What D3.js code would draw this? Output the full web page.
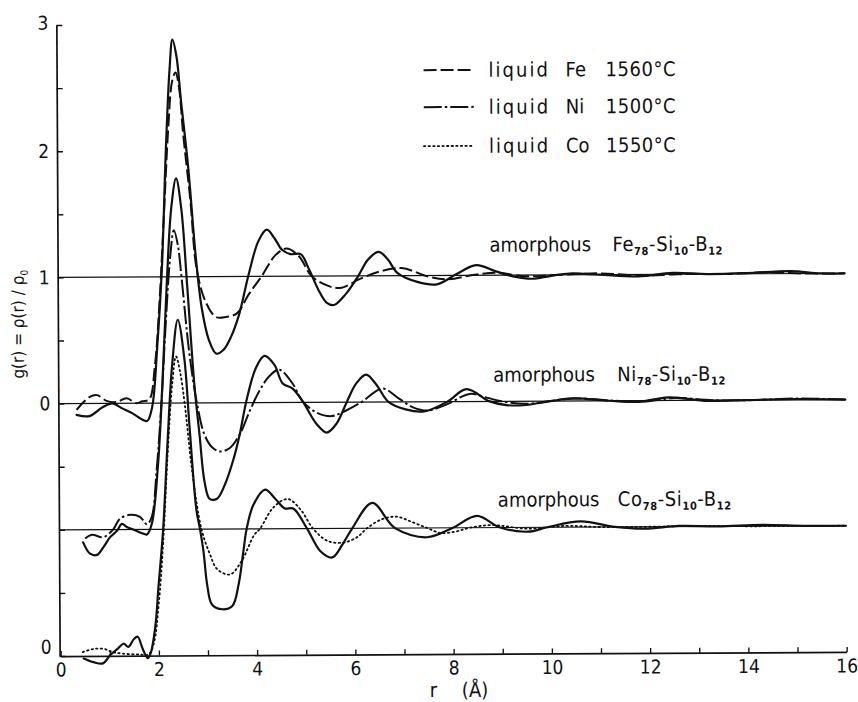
<!DOCTYPE html>
<html>
<head>
<meta charset="utf-8">
<script src="https://cdn.jsdelivr.net/npm/d3@7"></script>
<style>
  html, body { margin: 0; padding: 0; background: #fff; }
  svg { display: block; }
  text { font-family: "DejaVu Sans Condensed", "DejaVu Sans", sans-serif; fill: #111; }
</style>
</head>
<body>
<svg id="chart" width="858" height="702"></svg>
<script>
// Pair distribution functions g(r): [r (Å), g]
const feAmorphous = [[0.35,-0.09],[0.61,-0.10],[0.88,-0.03],[1.08,0.0],[1.28,-0.04],[1.49,-0.08],[1.69,-0.13],[1.79,-0.14],[1.89,-0.03],[2.0,0.45],[2.1,1.05],[2.2,2.05],[2.28,2.65],[2.34,2.88],[2.42,2.75],[2.51,2.39],[2.65,1.86],[2.79,1.17],[2.91,0.75],[3.05,0.5],[3.2,0.39],[3.35,0.42],[3.5,0.52],[3.67,0.70],[3.87,1.02],[4.07,1.28],[4.24,1.37],[4.4,1.3],[4.55,1.21],[4.72,1.175],[4.93,1.175],[5.09,1.06],[5.3,0.88],[5.45,0.79],[5.6,0.77],[5.85,0.86],[6.1,1.0],[6.3,1.13],[6.52,1.19],[6.7,1.13],[6.9,1.02],[7.3,0.95],[7.7,0.93],[8.1,1.01],[8.5,1.08],[8.9,1.03],[9.25,0.99],[9.63,0.97],[10.0,0.99],[10.4,1.01],[11.0,1.0],[11.8,0.985],[12.5,1.01],[13.2,1.0],[14.0,1.005],[14.9,1.02],[15.5,1.0],[16.0,1.0]];
const feLiquid = [[0.35,-0.05],[0.61,0.05],[0.77,0.066],[0.96,0.02],[1.16,0.01],[1.37,0.04],[1.57,0.0],[1.69,0.015],[1.83,0.03],[1.95,0.3],[2.05,0.8],[2.15,1.5],[2.25,2.2],[2.33,2.55],[2.40,2.62],[2.47,2.5],[2.55,2.13],[2.69,1.6],[2.81,1.06],[2.99,0.80],[3.2,0.68],[3.4,0.68],[3.63,0.71],[3.87,0.86],[4.13,1.0],[4.42,1.17],[4.64,1.22],[4.89,1.16],[5.15,1.0],[5.5,0.92],[5.76,0.906],[6.1,0.97],[6.5,1.03],[6.98,1.06],[7.54,0.99],[7.94,0.97],[8.4,1.0],[8.9,1.02],[9.5,0.99],[10.2,1.0],[11.0,1.01],[11.9,0.99],[12.6,1.0],[13.5,1.0],[14.5,1.01],[15.2,1.0],[16.0,1.0]];
const niAmorphous = [[0.47,-0.10],[0.61,-0.19],[0.75,-0.20],[0.88,-0.14],[1.02,-0.06],[1.16,-0.01],[1.26,0.045],[1.36,0.02],[1.49,0.0],[1.67,-0.03],[1.77,-0.04],[1.87,0.045],[2.0,0.5],[2.1,1.15],[2.2,1.95],[2.3,2.55],[2.4,2.78],[2.5,2.55],[2.62,1.9],[2.75,1.15],[2.85,0.75],[2.95,0.37],[3.05,0.24],[3.2,0.24],[3.36,0.35],[3.53,0.54],[3.67,0.75],[3.8,1.0],[4.0,1.27],[4.18,1.37],[4.38,1.30],[4.55,1.15],[4.75,1.11],[4.95,1.01],[5.23,0.83],[5.44,0.76],[5.64,0.83],[5.85,1.0],[6.05,1.15],[6.25,1.217],[6.45,1.14],[6.7,1.0],[7.05,0.94],[7.43,0.924],[7.9,1.0],[8.29,1.098],[8.76,1.0],[9.1,0.97],[9.5,0.97],[10.0,1.0],[10.45,1.02],[11.2,1.0],[11.8,0.99],[12.4,1.025],[13.2,0.995],[14.0,1.0],[15.0,1.005],[16.0,1.0]];
const niLiquid = [[0.51,-0.07],[0.65,-0.04],[0.88,-0.06],[1.08,0.0],[1.22,0.085],[1.43,0.116],[1.63,0.10],[1.77,0.04],[1.87,0.1],[1.97,0.45],[2.07,0.95],[2.17,1.6],[2.27,2.15],[2.35,2.37],[2.43,2.25],[2.5,2.0],[2.65,1.4],[2.8,1.0],[2.95,0.75],[3.1,0.65],[3.26,0.615],[3.46,0.64],[3.67,0.75],[3.87,0.93],[4.07,1.09],[4.28,1.21],[4.48,1.26],[4.75,1.15],[4.95,1.01],[5.23,0.92],[5.54,0.89],[5.76,0.92],[6.15,1.0],[6.58,1.106],[6.9,1.03],[7.2,0.956],[7.5,0.93],[7.9,0.98],[8.35,1.06],[8.7,1.03],[9.0,1.0],[9.5,0.98],[10.0,1.0],[10.5,1.02],[11.3,1.0],[12.0,0.995],[12.5,1.02],[13.3,1.0],[14.2,1.0],[15.0,1.01],[16.0,1.0]];
const coAmorphous = [[0.47,-0.02],[0.67,-0.05],[0.86,-0.06],[1.02,0.01],[1.16,0.055],[1.28,0.095],[1.38,0.07],[1.49,0.13],[1.57,0.15],[1.67,0.055],[1.77,-0.02],[1.83,0.016],[1.93,0.23],[2.0,0.55],[2.1,1.0],[2.2,1.7],[2.3,2.3],[2.42,2.66],[2.55,2.35],[2.65,1.8],[2.78,1.15],[2.85,1.0],[2.92,0.82],[2.99,0.56],[3.09,0.40],[3.3,0.364],[3.5,0.39],[3.63,0.56],[3.73,0.82],[3.8,1.0],[3.94,1.19],[4.18,1.31],[4.38,1.24],[4.58,1.16],[4.75,1.16],[5.03,1.0],[5.3,0.82],[5.54,0.77],[5.76,0.88],[5.95,1.0],[6.36,1.2],[6.82,1.0],[7.47,0.926],[8.0,1.0],[8.49,1.093],[8.96,1.0],[9.53,0.966],[9.92,1.0],[10.6,1.045],[11.3,1.0],[11.9,0.985],[12.6,1.005],[13.4,1.0],[14.3,1.01],[15.2,1.0],[16.0,1.0]];
const coLiquid = [[0.45,0.03],[0.67,0.055],[0.88,0.055],[1.06,0.03],[1.28,0.016],[1.57,0.01],[1.79,0.01],[1.9,0.1],[2.0,0.4],[2.1,0.9],[2.2,1.6],[2.3,2.15],[2.38,2.37],[2.46,2.25],[2.55,2.0],[2.7,1.45],[2.88,1.0],[3.05,0.8],[3.2,0.68],[3.46,0.64],[3.7,0.75],[3.95,0.95],[4.07,1.0],[4.35,1.17],[4.64,1.235],[4.9,1.15],[5.15,1.0],[5.45,0.9],[5.76,0.887],[6.05,0.93],[6.25,1.0],[6.55,1.07],[6.86,1.09],[7.15,1.05],[7.47,1.0],[7.74,0.96],[8.05,0.97],[8.35,1.0],[8.8,1.02],[9.5,0.99],[10.3,1.01],[11.0,1.0],[12.0,1.0],[13.0,1.005],[14.0,1.0],[15.0,1.0],[16.0,1.0]];

// Axis ticks and labels
const xTickValues = d3.range(0, 17);
const yTickValues = [0, 0.5, 1, 1.5, 2, 2.5, 3, 3.5, 4, 4.5, 5];
const yLabelValues = [0, 2, 3, 4, 5];
const yLabelTexts = ["0", "0", "1", "2", "3"];

// Stacking offsets: each alloy sits one unit above the next
const offsets = { Fe: 2, Ni: 1, Co: 0 };

const legendNames = ["Fe", "Ni", "Co"];
const legendTemps = ["1560°C", "1500°C", "1550°C"];

const svg = d3.select("#chart");
const root = svg.append("g").attr("transform", "rotate(-0.3 450 340)");

const x = d3.scaleLinear().domain([0, 16]).range([59, 845]);
const y = d3.scaleLinear().domain([0, 5]).range([654, 23]);

const styles = {
  solid:   { dash: null,          width: 2.2, cap: "round" },
  dashed:  { dash: "13,4",        width: 2.0, cap: "butt" },
  dashdot: { dash: "18,3,2.5,3",  width: 2.0, cap: "butt" },
  dotted:  { dash: "1.4,3.2",     width: 1.8, cap: "round" }
};

const series = [
  { data: feLiquid,    offset: offsets.Fe, style: "dashed" },
  { data: feAmorphous, offset: offsets.Fe, style: "solid" },
  { data: niLiquid,    offset: offsets.Ni, style: "dashdot" },
  { data: niAmorphous, offset: offsets.Ni, style: "solid" },
  { data: coLiquid,    offset: offsets.Co, style: "dotted" },
  { data: coAmorphous, offset: offsets.Co, style: "solid" }
];

// Reference lines g = 1 for each stacked alloy
root.append("g").selectAll("line")
  .data([1, 2, 3])
  .join("line")
  .attr("x1", x(0)).attr("x2", x(16))
  .attr("y1", d => y(d)).attr("y2", d => y(d))
  .attr("stroke", "#111").attr("stroke-width", 1.2);

// Axes
const xAxis = d3.axisBottom(x)
  .tickValues(xTickValues)
  .tickSizeInner(-5).tickSizeOuter(0).tickPadding(7)
  .tickFormat(d => d % 2 === 0 ? String(d) : "");
const gx = root.append("g").attr("transform", `translate(0,${y(0)})`).call(xAxis);

const yAxis = d3.axisLeft(y)
  .tickValues(yTickValues)
  .tickSizeInner(-6).tickSizeOuter(0).tickPadding(8)
  .tickFormat(d => {
    const i = yLabelValues.indexOf(d);
    return i >= 0 ? yLabelTexts[i] : "";
  });
const gy = root.append("g").attr("transform", `translate(${x(0) - 1},0)`).call(yAxis);

[gx, gy].forEach(g => {
  g.select(".domain").attr("stroke", "#111").attr("stroke-width", 1.7);
  g.selectAll(".tick line").attr("stroke", "#111").attr("stroke-width", 1.4);
  g.selectAll(".tick text").attr("font-size", 19).attr("fill", "#111")
    .style("font-family", '"DejaVu Sans Condensed","DejaVu Sans",sans-serif');
});
// lift the lowest y label clear of the r axis labels
gy.selectAll(".tick").filter(d => d === 0).select("text").attr("dy", "-0.15em");
gy.selectAll(".tick").filter(d => d === 5).select("text").attr("dy", "0.22em");

// Curves
const line = d3.line()
  .x(d => x(d[0]))
  .curve(d3.curveCatmullRom.alpha(0.5));

root.append("g").selectAll("path")
  .data(series)
  .join("path")
  .attr("d", s => line.y(d => y(d[1] + s.offset))(s.data))
  .attr("fill", "none")
  .attr("stroke", "#111")
  .attr("stroke-width", s => styles[s.style].width)
  .attr("stroke-dasharray", s => styles[s.style].dash)
  .attr("stroke-linecap", s => styles[s.style].cap)
  .attr("stroke-linejoin", "round");

// Legend
const legendStyles = ["dashed", "dashdot", "dotted"];
const legendY = [70, 107, 146];
const lg = root.append("g");
legendStyles.forEach((st, i) => {
  lg.append("line")
    .attr("x1", 425).attr("x2", 475)
    .attr("y1", legendY[i]).attr("y2", legendY[i])
    .attr("stroke", "#111")
    .attr("stroke-width", styles[st].width)
    .attr("stroke-dasharray", styles[st].dash)
    .attr("stroke-linecap", styles[st].cap);
  const t = lg.append("text").attr("y", legendY[i] + 7).attr("font-size", 20);
  t.append("tspan").attr("x", 490).attr("letter-spacing", 2).text("liquid");
  t.append("tspan").attr("x", 567).attr("letter-spacing", 0).text(legendNames[i]);
  t.append("tspan").attr("x", 607).attr("letter-spacing", 0.5).text(legendTemps[i]);
});

// Alloy labels
const alloyLabels = [
  { el: "Fe", xA: 490, xE: 613, base: 252 },
  { el: "Ni", xA: 493, xE: 617, base: 382 },
  { el: "Co", xA: 497, xE: 617, base: 507 }
];
alloyLabels.forEach(a => {
  root.append("text").attr("x", a.xA).attr("y", a.base).attr("font-size", 20).text("amorphous");
  const t = root.append("text").attr("x", a.xE).attr("y", a.base).attr("font-size", 20)
    .attr("letter-spacing", 0.6);
  t.append("tspan").text(a.el);
  t.append("tspan").attr("font-size", 11).attr("font-weight", "bold").attr("dy", 4).text("78");
  t.append("tspan").attr("dy", -4).text("-Si");
  t.append("tspan").attr("font-size", 11).attr("font-weight", "bold").attr("dy", 4).text("10");
  t.append("tspan").attr("dy", -4).text("-B");
  t.append("tspan").attr("font-size", 11).attr("font-weight", "bold").attr("dy", 4).text("12");
});

// Axis titles
const xt = root.append("text").attr("y", 697).attr("font-size", 20);
xt.append("tspan").attr("x", 428).text("r");
xt.append("tspan").attr("x", 460).text("(Å)");

const yt = root.append("text")
  .attr("transform", "translate(24,322) rotate(-90)")
  .attr("text-anchor", "middle")
  .attr("font-size", 17);
yt.append("tspan").text("g(r) = ρ(r) / ρ");
yt.append("tspan").attr("font-size", 10).attr("dy", 4).text("0");
</script>
</body>
</html>
